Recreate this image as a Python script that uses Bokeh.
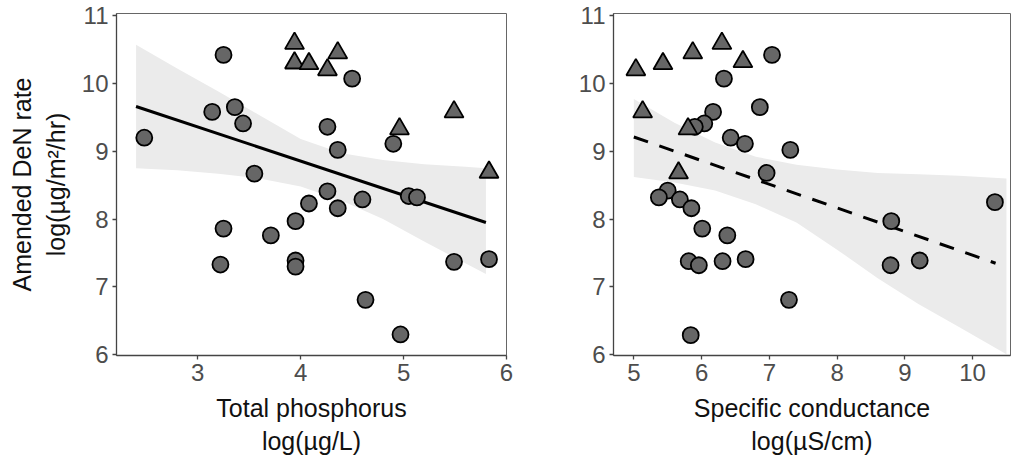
from bokeh.plotting import figure
from bokeh.layouts import row
from bokeh.embed import file_html
from bokeh.resources import INLINE
from bokeh.models import Range1d, FixedTicker

# ---------------- data ----------------
# Left panel: Total phosphorus
tp_circle_x = [3.25, 4.50, 3.14, 3.36, 3.44, 2.48, 4.26, 4.36, 4.90, 3.55,
               4.26, 5.05, 5.13, 4.08, 4.60, 4.36, 3.95, 3.25, 3.71, 3.22,
               3.95, 3.95, 5.49, 5.83, 4.63, 4.97]
tp_circle_y = [10.42, 10.07, 9.58, 9.65, 9.41, 9.20, 9.36, 9.02, 9.11, 8.67,
               8.41, 8.34, 8.32, 8.23, 8.29, 8.16, 7.97, 7.86, 7.76, 7.33,
               7.39, 7.30, 7.37, 7.41, 6.81, 6.30]
tp_tri_x = [3.94, 3.94, 4.08, 4.36, 4.26, 5.49, 4.96, 5.83]
tp_tri_y = [10.59, 10.30, 10.29, 10.45, 10.20, 9.58, 9.33, 8.69]
tp_fit_x = [2.40, 5.80]
tp_fit_y = [9.66, 7.95]
tp_band_x = [2.40, 2.8, 3.2, 3.6, 4.0, 4.4, 4.8, 5.2, 5.6, 5.80]
tp_band_upper = [10.57, 10.22, 9.88, 9.53, 9.18, 8.97, 8.87, 8.81, 8.77, 8.75]
tp_band_lower = [8.75, 8.72, 8.67, 8.60, 8.48, 8.27, 8.00, 7.67, 7.35, 7.19]

# Right panel: Specific conductance
sc_circle_x = [7.04, 6.33, 6.17, 6.04, 5.90, 6.86, 6.43, 6.64, 7.31, 6.96,
               10.33, 5.50, 5.37, 5.68, 5.85, 6.01, 6.38, 5.81, 5.96, 6.31,
               6.65, 8.80, 8.79, 9.22, 7.29, 5.84]
sc_circle_y = [10.42, 10.07, 9.58, 9.41, 9.36, 9.65, 9.20, 9.11, 9.02, 8.68,
               8.25, 8.42, 8.32, 8.29, 8.16, 7.86, 7.76, 7.38, 7.32, 7.38,
               7.41, 7.97, 7.32, 7.39, 6.81, 6.29]
sc_tri_x = [5.03, 5.43, 5.87, 6.30, 6.61, 5.13, 5.80, 5.66]
sc_tri_y = [10.20, 10.29, 10.45, 10.59, 10.32, 9.58, 9.33, 8.68]
sc_fit_x = [5.00, 10.34]
sc_fit_y = [9.21, 7.35]
sc_band_x = [5.0, 5.6, 6.2, 6.8, 7.4, 8.0, 8.6, 9.2, 9.8, 10.5]
sc_band_upper = [9.77, 9.42, 9.13, 8.92, 8.80, 8.73, 8.68, 8.66, 8.64, 8.60]
sc_band_lower = [8.62, 8.54, 8.42, 8.22, 7.95, 7.55, 7.13, 6.75, 6.41, 6.01]

y_ticks = [6, 7, 8, 9, 10, 11]
tp_ticks = [3, 4, 5, 6]
sc_ticks = [5, 6, 7, 8, 9, 10]

FONT = "Liberation Sans"
PT_FILL = "#666666"


def style(p, xticks, xlabel, ylabel):
    p.xaxis.ticker = FixedTicker(ticks=xticks)
    p.yaxis.ticker = FixedTicker(ticks=y_ticks)
    p.xgrid.visible = False
    p.ygrid.visible = False
    p.outline_line_color = "#666666"
    p.outline_line_width = 1
    for ax in (p.xaxis[0], p.yaxis[0]):
        ax.axis_line_color = "#444444"
        ax.axis_line_width = 1.3
        ax.major_tick_line_color = "#444444"
        ax.major_tick_line_width = 1.3
        ax.major_tick_out = 4
        ax.major_tick_in = 0
        ax.minor_tick_line_color = None
        ax.major_label_text_font = FONT
        ax.major_label_text_font_size = "24px"
        ax.major_label_text_color = "#4d4d4d"
        ax.axis_label_text_font = FONT
        ax.axis_label_text_font_size = "25px"
        ax.axis_label_text_font_style = "normal"
        ax.axis_label_text_color = "#111111"
    p.xaxis.major_label_standoff = 4
    p.yaxis.major_label_standoff = 4
    p.xaxis.axis_label = xlabel
    p.xaxis.axis_label_standoff = 10
    if ylabel:
        p.yaxis.axis_label = ylabel
        p.yaxis.axis_label_standoff = 9


def panel(width, left, right, xr, bx, bu, bl, fx, fy, dash, cx, cy, tx, ty):
    p = figure(width=width, height=461, x_range=Range1d(*xr),
               y_range=Range1d(5.99, 11.03), output_backend="svg",
               toolbar_location=None, min_border_left=left,
               min_border_right=right, min_border_top=13,
               min_border_bottom=106, background_fill_color="white",
               border_fill_color="white")
    p.varea(x=bx, y1=bl, y2=bu, fill_color="#ebebeb")
    p.line(fx, fy, line_color="black", line_width=3, line_dash=dash)
    p.scatter(cx, cy, marker="circle", size=16, fill_color=PT_FILL,
              line_color="black", line_width=1.8)
    p.scatter(tx, ty, marker="triangle", size=19, fill_color=PT_FILL,
              line_color="black", line_width=1.8)
    return p


p1 = panel(520, 116, 14, (2.21, 6.0), tp_band_x, tp_band_upper, tp_band_lower,
           tp_fit_x, tp_fit_y, "solid", tp_circle_x, tp_circle_y, tp_tri_x, tp_tri_y)
style(p1, tp_ticks, "Total phosphorus\nlog(µg/L)", "Amended DeN rate\nlog(µg/m²/hr)")

p2 = panel(495, 93, 5, (4.70, 10.56), sc_band_x, sc_band_upper, sc_band_lower,
           sc_fit_x, sc_fit_y, "15 12", sc_circle_x, sc_circle_y, sc_tri_x, sc_tri_y)
style(p2, sc_ticks, "Specific conductance\nlog(µS/cm)", None)

layout = row(p1, p2, spacing=0)
open("out.html", "w").write(file_html(layout, INLINE))
